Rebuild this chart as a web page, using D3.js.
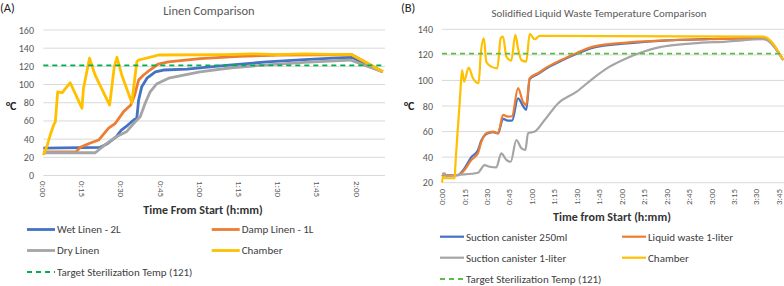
<!DOCTYPE html>
<html>
<head>
<meta charset="utf-8">
<script src="https://cdn.jsdelivr.net/npm/d3@7"></script>
<style>
    body { margin: 0; background: #fff; }
    svg { display: block; font-family: Carlito, Lato, "Liberation Sans", sans-serif; }
</style>
</head>
<body>
<svg id="chart" width="784" height="286"></svg>
<script>
/*
    Data: [minutes from start, degrees C]
*/
const TARGET = 121;

// (A) Linen comparison
const wetLinen = [[0,30],[21.8,31],[24.3,34.6],[28,42.7],[29.9,50],[32.4,55.5],[34.6,61],[35.8,63],[36.5,83],[37.7,97.7],[39.7,107],[42.9,114],[46,116],[55,117],[70,121],[85.6,125],[100,127.5],[111,129],[118,130],[130,114]];
const dampLinen = [[0,26],[12.5,26],[14.2,31],[17.8,35.4],[21.2,39],[25,52],[27.6,57.4],[30.7,70],[33.5,77.5],[35,88.5],[36.5,105],[38.4,110.5],[40.8,116],[44,122.6],[47.9,125],[60,128.5],[75,131],[90,132.5],[118,133],[130,114]];
const dryLinen = [[0,25],[19.9,25],[24.3,35.4],[28,42.7],[31.8,48],[35.2,59],[37.1,64.7],[39,79.4],[40.9,92],[43.5,101],[48,107],[60,114],[72,118.5],[85.6,121.6],[100,124.5],[117.5,127],[130,114]];
const chamberA = [[0,22.5],[1.4,32],[2.7,45],[3.9,55],[4.6,59],[5.5,92],[7.2,91],[10.3,102],[14.8,74],[15.4,96],[17.7,129],[19.9,110],[25.4,77.5],[27.2,120],[28.2,130],[30.1,110],[33.9,80],[35.8,125],[36.5,127],[42.2,131],[44.1,132.5],[70,133],[80,133.8],[90,133],[100,133.8],[110,133.2],[118,133],[130,114]];

// (B) Solidified liquid waste comparison
const canister250 = [[0,25],[1.8,26],[10.7,26],[14,29.5],[19.6,40],[24,45.5],[26.3,53],[29.6,58],[34.1,59.5],[37.4,58.5],[40.8,70],[44,68.5],[46.8,68.5],[50.8,86],[54.1,80],[56.3,77],[58.6,101],[64,105],[70.8,110],[79.7,115.3],[90,120.8],[101,125.6],[123.4,129],[145.6,131],[179,132.4],[214.7,133],[228,116]];
const liquidWaste = [[0,25],[1.8,26],[10.7,26],[14,28.6],[19.6,37.8],[24,43],[26.3,52],[29.6,58.7],[34.1,60],[37.4,58.7],[40.8,73],[44,71.7],[46.8,72],[50.8,94],[54.1,83.4],[56.3,80.8],[58.6,101.7],[64,105.6],[70.8,110.8],[79.7,116],[90,121.5],[101,126.4],[123.4,129.6],[145.6,131.1],[179,132.2],[214.7,133],[228,116]];
const canister1L = [[0,27],[1.8,27.3],[3,25],[10,26],[24,27.8],[28.5,33.8],[31.8,32.5],[36.3,32],[39.6,43],[43,37.8],[45.9,36.4],[49.7,53.4],[53,47],[55.7,45.6],[57.5,58.7],[62,60],[68.6,69],[77.5,82],[90,91.2],[101,101.7],[112,110.8],[123.4,117.4],[134.5,122.5],[145.6,126],[167.9,129],[190,130.4],[214.7,132.2],[228,116]];
const chamberB = [[0,20],[0.7,24.7],[2,23.5],[8.5,23.5],[8.9,32.5],[10.2,56],[11.8,82],[13.4,108],[14.7,99],[17.8,110],[20.7,101.7],[24.5,97.8],[25.9,121],[28,133],[29.6,114.7],[32.9,110.8],[37,109.5],[39.2,133],[40.8,134.3],[43,118.6],[46.3,115.5],[49,135.6],[50.8,125],[53,116],[56.3,114.7],[58.6,136.4],[61.9,132.2],[65.3,134.8],[214.7,134.3],[228,116]];

const ticksA = d3.range(0, 121, 15);
const ticksB = d3.range(0, 226, 15);

const COLORS = {blue: '#4472C4', orange: '#ED7D31', gray: '#A5A5A5', yellow: '#FFC000'};

const svg = d3.select('#chart');

const fmtTime = m => `${Math.floor(m / 60)}:${String(m % 60).padStart(2, '0')}`;

function drawPanel(p) {
    const g = svg.append('g');

    const x = d3.scaleLinear().domain(p.xDomain).range(p.xRange);
    const y = d3.scaleLinear().domain(p.yDomain).range(p.yRange);

    // gridlines + y labels
    const yTicks = d3.range(p.yDomain[0], p.yDomain[1] + 1, 20);
    g.append('g')
        .selectAll('line')
        .data(yTicks)
        .enter()
        .append('line')
        .attr('x1', p.xRange[0])
        .attr('x2', p.gridEnd)
        .attr('y1', d => y(d))
        .attr('y2', d => y(d))
        .attr('stroke', '#d9d9d9')
        .attr('stroke-width', 1);

    g.append('g')
        .selectAll('text')
        .data(yTicks)
        .enter()
        .append('text')
        .attr('x', p.yLabelX)
        .attr('y', d => y(d))
        .attr('dy', '0.35em')
        .attr('text-anchor', 'end')
        .attr('font-size', 10)
        .attr('fill', '#595959')
        .text(d => d);

    // x tick labels, rotated
    g.append('g')
        .selectAll('text')
        .data(p.xTicks)
        .enter()
        .append('text')
        .attr('transform', d => `translate(${x(d)},${p.tickY}) rotate(${p.tickRotate})`)
        .attr('dy', '0.35em')
        .attr('text-anchor', p.tickAnchor)
        .attr('font-size', 9)
        .attr('fill', '#595959')
        .text(fmtTime);

    const line = d3.line()
        .curve(p.curve)
        .x(d => x(d[0]))
        .y(d => y(d[1]));

    for (const s of p.series) {
        g.append('path')
            .attr('d', line(s.data))
            .attr('fill', 'none')
            .attr('stroke', s.color)
            .attr('stroke-width', p.lineWidth)
            .attr('stroke-linejoin', 'round');
    }

    // target line
    g.append('line')
        .attr('x1', p.xRange[0])
        .attr('x2', x(p.xDomain[1]))
        .attr('y1', y(TARGET))
        .attr('y2', y(TARGET))
        .attr('stroke', p.targetColor)
        .attr('stroke-width', 1.8)
        .attr('stroke-dasharray', '5,4');

    // texts
    g.append('text')
        .attr('x', p.letterX).attr('y', 12)
        .attr('font-size', 12.5).attr('fill', '#222')
        .text(p.letter);

    g.append('text')
        .attr('x', p.titleX).attr('y', p.titleY)
        .attr('text-anchor', 'middle')
        .attr('font-size', p.titleSize).attr('fill', '#595959')
        .text(p.title);

    g.append('text')
        .attr('x', p.unitX).attr('y', 110)
        .attr('font-size', 12).attr('font-weight', 'bold').attr('fill', '#222')
        .text('°C');

    g.append('text')
        .attr('x', p.axisTitleX).attr('y', p.axisTitleY)
        .attr('text-anchor', 'middle')
        .attr('font-size', 12).attr('font-weight', 'bold').attr('fill', '#333')
        .text(p.axisTitle);

    // legend
    const legendItems = p.series.concat([{name: 'Target Sterilization Temp (121)', color: p.targetColor, dashed: true}]);
    legendItems.forEach((s, i) => {
        const lx = p.legendCols[i % 2];
        const ly = p.legendRows[Math.floor(i / 2)];
        g.append('line')
            .attr('x1', lx).attr('x2', lx + p.legendLine)
            .attr('y1', ly).attr('y2', ly)
            .attr('stroke', s.color)
            .attr('stroke-width', s.dashed ? 1.8 : p.lineWidth)
            .attr('stroke-dasharray', s.dashed ? '5,4' : null);
        g.append('text')
            .attr('x', lx + p.legendLine + 2).attr('y', ly)
            .attr('dy', '0.35em')
            .attr('font-size', 11).attr('fill', '#404040')
            .text(s.name);
    });
}

drawPanel({
    letter: '(A)', letterX: 0,
    title: 'Linen Comparison', titleX: 209, titleY: 15, titleSize: 12.5,
    xDomain: [0, 130], xRange: [43.3, 382.8], gridEnd: 385,
    yDomain: [0, 160], yRange: [175.5, 30],
    xTicks: ticksA, tickY: 181, tickRotate: 90, tickAnchor: 'start',
    yLabelX: 34, unitX: 6,
    axisTitle: 'Time From Start (h:mm)', axisTitleX: 203, axisTitleY: 214,
    curve: d3.curveLinear, lineWidth: 2.8,
    targetColor: '#00B050',
    legendCols: [27, 211.7], legendRows: [229.5, 250.5, 272], legendLine: 28,
    series: [
        {name: 'Wet Linen - 2L', data: wetLinen, color: COLORS.blue},
        {name: 'Damp Linen - 1L', data: dampLinen, color: COLORS.orange},
        {name: 'Dry Linen', data: dryLinen, color: COLORS.gray},
        {name: 'Chamber', data: chamberA, color: COLORS.yellow}
    ]
});

drawPanel({
    letter: '(B)', letterX: 401,
    title: 'Solidified Liquid Waste Temperature Comparison', titleX: 599, titleY: 17, titleSize: 10.9,
    xDomain: [0, 228], xRange: [442, 783.2], gridEnd: 784,
    yDomain: [20, 140], yRange: [182.7, 29.3],
    xTicks: ticksB, tickY: 189, tickRotate: -90, tickAnchor: 'end',
    yLabelX: 433, unitX: 404,
    axisTitle: 'Time from Start (h:mm)', axisTitleX: 612, axisTitleY: 221,
    curve: d3.curveMonotoneX, lineWidth: 2.2,
    targetColor: '#5BBD45',
    legendCols: [440, 622], legendRows: [236.7, 257.7, 279], legendLine: 24,
    series: [
        {name: 'Suction canister 250ml', data: canister250, color: COLORS.blue},
        {name: 'Liquid waste 1-liter', data: liquidWaste, color: COLORS.orange},
        {name: 'Suction canister 1-liter', data: canister1L, color: COLORS.gray},
        {name: 'Chamber', data: chamberB, color: COLORS.yellow}
    ]
});
</script>
</body>
</html>
